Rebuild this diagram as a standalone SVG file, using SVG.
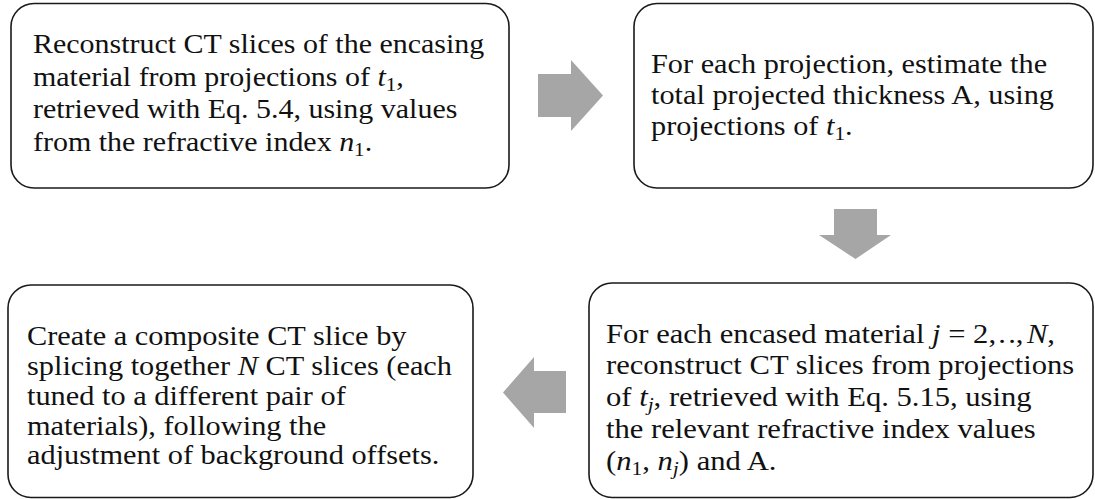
<svg xmlns="http://www.w3.org/2000/svg" width="1095" height="499" viewBox="0 0 1095 499">
<style>
.box{fill:#fff;stroke:#1a1a1a;stroke-width:1.6}
.m{font-style:italic}
.s{font-size:19px}
.arr{fill:#a6a6a6}
</style>
<rect width="1095" height="499" fill="#fff"/>
<g id="node1">
<rect class="box" x="11" y="3.5" width="498" height="184.5" rx="23"/>
<g transform="translate(33,0) scale(1.11,1)" font-family="'Liberation Serif', serif" font-size="27" fill="#111">
<text x="0" y="53">Reconstruct CT slices of the encasing</text>
<text x="0" y="86">material from projections of <tspan class="m">t</tspan><tspan class="s" dy="5">1</tspan><tspan dy="-5">,</tspan></text>
<text x="0" y="118">retrieved with Eq. 5.4, using values</text>
<text x="0" y="151">from the refractive index <tspan class="m">n</tspan><tspan class="s" dy="5">1</tspan><tspan dy="-5">.</tspan></text>
</g>
</g>
<g id="node2">
<rect class="box" x="634" y="3.5" width="459" height="184.5" rx="23"/>
<g transform="translate(651,0) scale(1.122,1)" font-family="'Liberation Serif', serif" font-size="27" fill="#111">
<text x="0" y="73">For each projection, estimate the</text>
<text x="0" y="104">total projected thickness A, using</text>
<text x="0" y="135">projections of <tspan class="m">t</tspan><tspan class="s" dy="5">1</tspan><tspan dy="-5">.</tspan></text>
</g>
</g>
<g id="node3">
<rect class="box" x="8" y="285" width="465" height="212.5" rx="23"/>
<g transform="translate(27,0) scale(1.124,1)" font-family="'Liberation Serif', serif" font-size="27" fill="#111">
<text x="0" y="345">Create a composite CT slice by</text>
<text x="0" y="375">splicing together <tspan class="m">N</tspan> CT slices (each</text>
<text x="0" y="405">tuned to a different pair of</text>
<text x="0" y="435">materials), following the</text>
<text x="0" y="464">adjustment of background offsets.</text>
</g>
</g>
<g id="node4">
<rect class="box" x="589" y="283" width="504" height="214.5" rx="23"/>
<g transform="translate(606,0) scale(1.133,1)" font-family="'Liberation Serif', serif" font-size="27" fill="#111">
<text x="0" y="343">For each encased material <tspan class="m">j</tspan> = 2,<tspan dx="2">.</tspan><tspan dx="2">.</tspan>,<tspan class="m" dx="3">N</tspan>,</text>
<text x="0" y="374">reconstruct CT slices from projections</text>
<text x="0" y="406">of <tspan class="m">t</tspan><tspan class="s m" dy="5">j</tspan><tspan dy="-5">, retrieved with Eq. 5.15, using</tspan></text>
<text x="0" y="438">the relevant refractive index values</text>
<text x="0" y="470">(<tspan class="m">n</tspan><tspan class="s" dy="5">1</tspan><tspan dy="-5">, </tspan><tspan class="m">n</tspan><tspan class="s m" dy="5">j</tspan><tspan dy="-5">) and A.</tspan></text>
</g>
</g>
<g id="connectors">
<polygon class="arr" points="538,74 571,74 571,60 603,95.5 571,131 571,117 538,117"/>
<polygon class="arr" points="834,209 877,209 877,235 891,235 855.5,259 819,235 834,235"/>
<polygon class="arr" points="566,371 534,371 534,357 503,392.5 534,428 534,413 566,413"/>
</g>
</svg>
